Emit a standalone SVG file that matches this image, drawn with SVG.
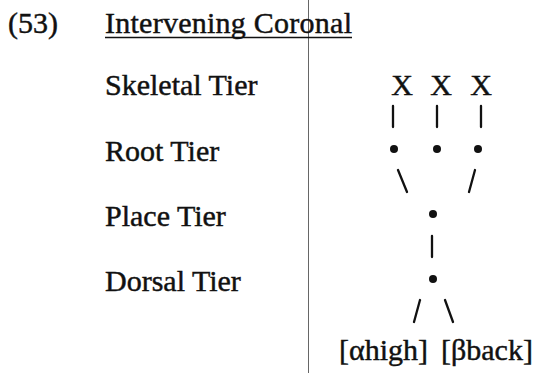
<svg xmlns="http://www.w3.org/2000/svg" width="534" height="373" viewBox="0 0 534 373">
<style>
  text { font-family: "Liberation Serif", "Times New Roman", serif; font-size: 30px; fill: #111; stroke: #111; stroke-width: 0.45; }
  .x { text-anchor: middle; }
  .ln { stroke: #111; stroke-width: 2.3; stroke-linecap: round; fill: none; }
  .dot { fill: #111; }
</style>
<rect width="534" height="373" fill="#fff"/>
<line x1="308.5" y1="0" x2="308.5" y2="373" stroke="#666" stroke-width="1"/>
<g id="title">
  <text x="8" y="33">(53)</text>
  <text x="105" y="33" textLength="247" lengthAdjust="spacing">Intervening Coronal</text>
  <line x1="105" y1="37.5" x2="352" y2="37.5" stroke="#111" stroke-width="1.7"/>
</g>
<g id="labels">
  <text x="105" y="95">Skeletal Tier</text>
  <text x="105" y="161">Root Tier</text>
  <text x="105" y="226">Place Tier</text>
  <text x="105" y="291">Dorsal Tier</text>
</g>
<g id="skeletal">
  <text class="x" x="402" y="95">X</text>
  <text class="x" x="441" y="95">X</text>
  <text class="x" x="481" y="95">X</text>
</g>
<g id="root">
  <circle class="dot" cx="394" cy="149" r="4"/>
  <circle class="dot" cx="437" cy="149" r="4"/>
  <circle class="dot" cx="478" cy="149" r="4"/>
</g>
<g id="place">
  <circle class="dot" cx="433" cy="214" r="4"/>
</g>
<g id="dorsal">
  <circle class="dot" cx="433" cy="279" r="4"/>
</g>
<g id="features">
  <text x="339" y="360">[αhigh]</text>
  <text x="441" y="360">[βback]</text>
</g>
<g id="connectors">
  <line class="ln" x1="393" y1="106" x2="393" y2="127"/>
  <line class="ln" x1="437" y1="106" x2="437" y2="127"/>
  <line class="ln" x1="481" y1="106" x2="481" y2="127"/>
  <line class="ln" x1="398" y1="170" x2="407" y2="192"/>
  <line class="ln" x1="475" y1="170" x2="469" y2="192"/>
  <line class="ln" x1="432" y1="236" x2="432" y2="257"/>
  <line class="ln" x1="420" y1="300" x2="414" y2="322"/>
  <line class="ln" x1="445" y1="300" x2="453" y2="322"/>
</g>
</svg>
